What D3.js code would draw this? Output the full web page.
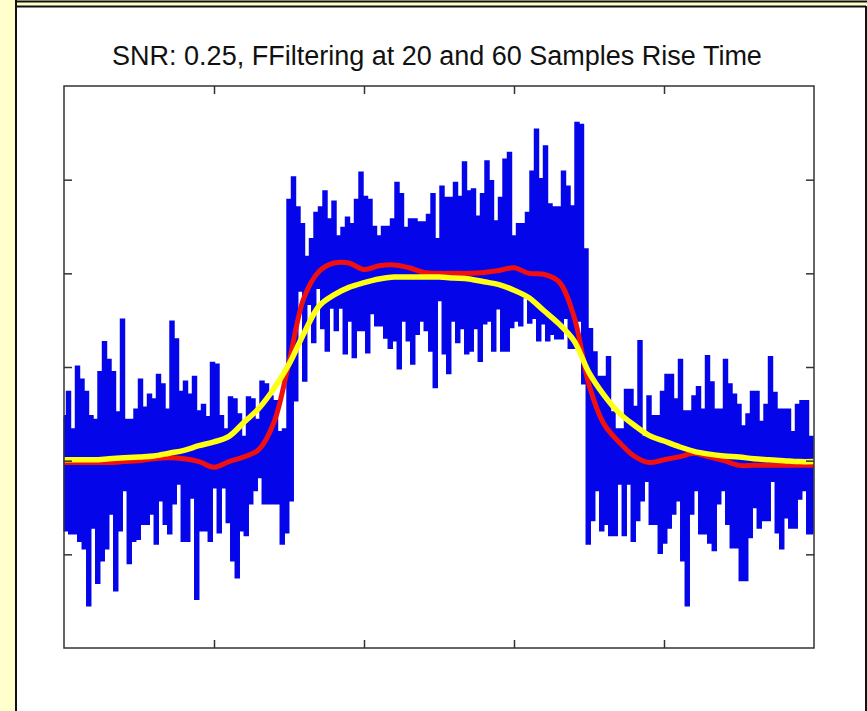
<!DOCTYPE html>
<html>
<head>
<meta charset="utf-8">
<script src="https://cdn.jsdelivr.net/npm/d3@7"></script>
<style>
  body { margin: 0; background: #fff; }
  svg { display: block; }
</style>
</head>
<body>
<div id="chart"></div>
<script>

// --------------------------------------
//  Data
// --------------------------------------

const titleText = "SNR: 0.25, FFiltering at 20 and 60 Samples Rise Time";

const xDomain = [0, 1000];
const yDomain = [-3, 3];
const xTicks = [200, 400, 600, 800];
const yTicks = [-2, -1, 0, 1, 2];

// noisy signal: one high and one low sample in each group of 6 samples
const blueStep = 6;
const blueTop = [
  -0.53, -0.27, -0.67, 0.00, -0.14, -0.27, -0.53, -0.57, -0.06, 0.26,
  0.07, -0.06, -0.49, 0.50, -0.57, -0.57, -0.46, -0.14, -0.44, -0.30,
  -0.35, -0.09, -0.19, -0.46, 0.48, 0.29, -0.27, -0.16, -0.30, -0.11,
  -0.48, -0.41, -0.54, 0.04, 0.02, -0.53, -0.67, -0.33, -0.35, -0.51,
  -0.75, -0.33, -0.35, -0.57, -0.16, -0.19, -0.32, -0.37, -0.70, -0.67,
  1.78, 2.02, 1.70, 1.52, 1.17, 1.36, 1.64, 1.70, 1.87, 1.57,
  1.76, 1.39, 1.48, 1.59, 1.52, 1.78, 2.07, 1.81, 1.78, 1.49,
  1.39, 1.49, 1.49, 1.57, 1.96, 1.84, 1.48, 1.57, 1.57, 1.54,
  1.54, 1.62, 1.84, 1.36, 1.92, 1.80, 1.80, 1.96, 1.81, 2.18,
  1.87, 1.89, 1.60, 1.84, 2.19, 1.98, 1.55, 1.80, 2.21, 2.28,
  1.39, 1.52, 1.52, 1.64, 2.08, 2.53, 2.00, 2.35, 1.73, 1.70,
  1.70, 2.08, 1.92, 1.71, 2.60, 2.58, 1.25, 0.40, 0.15, -0.11,
  -0.11, 0.10, -0.49, -0.67, -0.67, -0.25, -0.25, -0.43, 0.27, -0.75,
  -0.32, -0.53, -0.53, -0.27, -0.09, -0.09, -0.35, 0.07, -0.48, -0.48,
  -0.32, -0.22, -0.46, 0.11, -0.17, -0.46, -0.46, 0.07, -0.19, -0.30,
  -0.41, -0.64, -0.51, -0.27, -0.27, -0.59, -0.41, 0.10, -0.28, -0.46,
  -0.46, -0.46, -0.70, -0.41, -0.37, -0.37, -0.75
];
const blueBottom = [
  -1.74, -1.77, -1.77, -1.85, -1.93, -2.54, -1.71, -2.30, -2.06, -1.93,
  -1.56, -2.38, -1.74, -1.31, -2.09, -1.85, -1.83, -1.67, -1.67, -1.56,
  -1.88, -1.42, -1.67, -1.77, -1.45, -1.24, -1.85, -1.85, -1.39, -2.47,
  -1.74, -1.74, -1.85, -1.28, -1.76, -1.28, -1.65, -2.06, -2.24, -1.74,
  -1.79, -1.45, -1.31, -1.17, -1.45, -1.45, -1.45, -1.45, -1.88, -1.76,
  -1.42, -0.35, 0.82, -0.14, 0.68, 0.27, 0.85, 0.42, 0.18, 0.64,
  0.40, 0.64, 0.15, 0.50, 0.11, 0.40, 0.40, 0.16, 0.58, 0.45,
  0.45, 0.32, 0.21, 0.29, -0.01, 0.50, 0.29, 0.04, 0.36, 0.50,
  0.40, 0.18, -0.21, 0.72, 0.15, -0.06, 0.50, 0.27, 0.42, 0.15,
  0.18, 0.42, 0.07, 0.47, 0.50, 0.18, 0.63, 0.18, 0.18, 0.43,
  0.50, 0.45, 0.75, 0.48, 0.53, 0.29, 0.47, 0.29, 0.36, 0.31,
  0.31, 0.53, 0.21, 0.21, 0.50, -0.17, -1.88, -1.63, -1.31, -1.74,
  -1.67, -1.79, -1.79, -1.24, -1.79, -1.24, -1.85, -1.63, -1.42, -1.21,
  -1.67, -1.67, -1.98, -1.87, -1.71, -1.56, -1.42, -2.06, -2.54, -1.56,
  -1.31, -1.77, -1.77, -1.87, -1.95, -1.45, -1.31, -1.67, -1.92, -1.92,
  -2.27, -2.27, -1.81, -1.49, -1.71, -1.63, -1.63, -1.21, -1.76, -1.93,
  -1.60, -1.71, -1.71, -1.40, -1.31, -1.77, -1.77
];

// filtered curves, one value every 20 samples
const filterStep = 20;
const red20 = [
  -1.02, -1.02, -1.02, -1.02, -1.01, -1.00, -0.98, -0.97, -0.98, -1.01,
  -1.07, -1.01, -0.96, -0.88, -0.59, 0.05, 0.74, 1.02, 1.11, 1.11,
  1.04, 1.08, 1.09, 1.06, 1.01, 1.00, 1.00, 1.00, 1.01, 1.03,
  1.06, 1.00, 0.99, 0.91, 0.54, -0.19, -0.61, -0.80, -0.95, -1.02,
  -0.99, -0.96, -0.92, -0.96, -1.00, -1.05, -1.05, -1.05, -1.05, -1.05, -1.05
];
const yellow60 = [
  -0.99, -0.99, -0.99, -0.98, -0.97, -0.96, -0.95, -0.92, -0.89, -0.84,
  -0.80, -0.74, -0.59, -0.44, -0.23, 0.03, 0.36, 0.65, 0.77, 0.85,
  0.90, 0.94, 0.96, 0.96, 0.96, 0.96, 0.95, 0.94, 0.91, 0.88,
  0.82, 0.74, 0.60, 0.46, 0.28, -0.06, -0.30, -0.49, -0.62, -0.73,
  -0.79, -0.85, -0.90, -0.93, -0.95, -0.96, -0.98, -0.99, -1.00, -1.01, -1.01
];

// --------------------------------------
//  Margin and canvas
// --------------------------------------

const width = 867;
const height = 711;
const margin = {top: 86, right: 53, bottom: 63, left: 64};
const innerwidth = width - margin.left - margin.right;
const innerheight = height - margin.top - margin.bottom;

const svg = d3.select("#chart")
  .append("svg")
    .attr("width", width)
    .attr("height", height);

// page frame: cream strips and black borders
svg.append("rect")
    .attr("x", 0).attr("y", 0)
    .attr("width", width).attr("height", 6)
    .attr("fill", "#ffffcc");
svg.append("rect")
    .attr("x", 0).attr("y", 0)
    .attr("width", 15).attr("height", height)
    .attr("fill", "#ffffcc");

const frameLines = [
  [15, 1.5, width, 1.5],
  [15, 6.5, width - 1, 6.5],
  [16, 0, 16, height],
  [866, 6, 866, height]
];
svg.selectAll(".frame")
  .data(frameLines)
  .join("line")
    .attr("class", "frame")
    .attr("x1", d => d[0]).attr("y1", d => d[1])
    .attr("x2", d => d[2]).attr("y2", d => d[3])
    .attr("stroke", "#111")
    .attr("stroke-width", 2);

const innerChart = svg
  .append("g")
    .attr("transform", `translate(${margin.left}, ${margin.top})`);

// --------------------------------------
//  Scales
// --------------------------------------

const x = d3.scaleLinear()
    .domain(xDomain)
    .range([0, innerwidth]);

const y = d3.scaleLinear()
    .domain(yDomain)
    .range([innerheight, 0]);

// --------------------------------------
//  Lines
// --------------------------------------

let bluePoints = [];
blueTop.forEach((v, i) => {
  bluePoints.push({s: i * blueStep, v: v});
  bluePoints.push({s: i * blueStep + blueStep / 2, v: blueBottom[i]});
});

// the thick signal reads as little stairs in the reference
const stairs = d3.line()
    .x(d => x(d.s))
    .y(d => y(d.v))
    .curve(d3.curveStep);

const smooth = d3.line()
    .x(d => x(d.s))
    .y(d => y(d.v))
    .curve(d3.curveCatmullRom);

innerChart.append("path")
    .datum(bluePoints)
    .attr("d", stairs)
    .attr("fill", "none")
    .attr("stroke", "#0505ea")
    .attr("stroke-width", 3.2)
    .attr("stroke-linejoin", "miter");

innerChart.append("path")
    .datum(red20.map((v, i) => ({s: i * filterStep, v: v})))
    .attr("d", smooth)
    .attr("fill", "none")
    .attr("stroke", "#f01010")
    .attr("stroke-width", 5);

innerChart.append("path")
    .datum(yellow60.map((v, i) => ({s: i * filterStep, v: v})))
    .attr("d", smooth)
    .attr("fill", "none")
    .attr("stroke", "#ffff14")
    .attr("stroke-width", 5.5);

// --------------------------------------
//  Axes box and inward ticks
// --------------------------------------

const tickLen = 8;

innerChart.append("rect")
    .attr("x", 0).attr("y", 0)
    .attr("width", innerwidth).attr("height", innerheight)
    .attr("fill", "none")
    .attr("stroke", "#333")
    .attr("stroke-width", 1.5);

innerChart.append("g")
    .attr("transform", `translate(0, ${innerheight})`)
    .call(d3.axisTop(x).tickValues(xTicks).tickSize(tickLen).tickFormat(""))
    .call(g => g.select(".domain").remove());

innerChart.append("g")
    .call(d3.axisBottom(x).tickValues(xTicks).tickSize(tickLen).tickFormat(""))
    .call(g => g.select(".domain").remove());

innerChart.append("g")
    .call(d3.axisRight(y).tickValues(yTicks).tickSize(tickLen).tickFormat(""))
    .call(g => g.select(".domain").remove());

innerChart.append("g")
    .attr("transform", `translate(${innerwidth}, 0)`)
    .call(d3.axisLeft(y).tickValues(yTicks).tickSize(tickLen).tickFormat(""))
    .call(g => g.select(".domain").remove());

innerChart.selectAll(".tick line")
    .attr("stroke", "#333")
    .attr("stroke-width", 1.5);

// --------------------------------------
//  Title
// --------------------------------------

svg.append("text")
    .attr("x", margin.left + innerwidth / 2 - 2)
    .attr("y", 65)
    .attr("text-anchor", "middle")
    .attr("font-family", "'Liberation Sans', Arial, sans-serif")
    .attr("font-size", 27)
    .attr("fill", "#111")
    .text(titleText);

</script>
</body>
</html>
